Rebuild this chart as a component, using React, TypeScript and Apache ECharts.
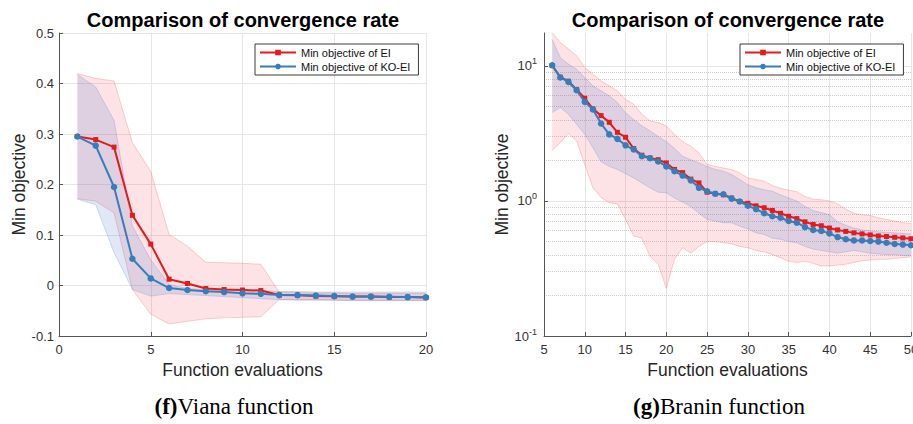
import React, { useEffect, useRef } from 'react';
import * as echarts from 'echarts';

// ---------- (f) Viana function ----------
const vianaX = [1, 2, 3, 4, 5, 6, 7, 8, 9, 10, 11, 12, 13, 14, 15, 16, 17, 18, 19, 20];
const vianaEI = [0.295, 0.289, 0.274, 0.139, 0.082, 0.0125, 0.004, -0.006, -0.008, -0.009, -0.010, -0.019, -0.0195, -0.021, -0.0215, -0.022, -0.022, -0.023, -0.023, -0.024];
const vianaKO = [0.295, 0.277, 0.195, 0.053, 0.014, -0.005, -0.009, -0.0115, -0.013, -0.0155, -0.0165, -0.019, -0.019, -0.020, -0.021, -0.022, -0.022, -0.0225, -0.023, -0.0235];
const vianaEIUpper = [0.420, 0.410, 0.405, 0.283, 0.226, 0.101, 0.078, 0.046, 0.045, 0.044, 0.042, -0.013, -0.014, -0.015, -0.015, -0.016, -0.016, -0.016, -0.016, -0.016];
const vianaEILower = [0.172, 0.167, 0.144, -0.008, -0.057, -0.076, -0.071, -0.066, -0.064, -0.063, -0.062, -0.028, -0.028, -0.028, -0.029, -0.029, -0.029, -0.029, -0.029, -0.029];
const vianaKOUpper = [0.418, 0.393, 0.327, 0.118, 0.051, 0.002, -0.006, -0.008, -0.009, -0.010, -0.010, -0.012, -0.012, -0.013, -0.013, -0.013, -0.013, -0.013, -0.013, -0.013];
const vianaKOLower = [0.171, 0.160, 0.065, -0.008, -0.021, -0.016, -0.018, -0.020, -0.022, -0.024, -0.026, -0.028, -0.029, -0.029, -0.029, -0.030, -0.030, -0.030, -0.030, -0.030];

// ---------- (g) Branin function ----------
const braninX = [6, 7, 8, 9, 10, 11, 12, 13, 14, 15, 16, 17, 18, 19, 20, 21, 22, 23, 24, 25, 26, 27, 28, 29, 30, 31, 32, 33, 34, 35, 36, 37, 38, 39, 40, 41, 42, 43, 44, 45, 46, 47, 48, 49, 50];
const braninEI = [10.05, 8.24, 7.69, 6.67, 5.75, 4.80, 4.28, 3.82, 3.22, 2.96, 2.44, 2.18, 2.08, 2.02, 1.91, 1.71, 1.62, 1.45, 1.36, 1.16, 1.13, 1.11, 1.05, 0.99, 0.96, 0.92, 0.89, 0.85, 0.81, 0.77, 0.74, 0.70, 0.67, 0.655, 0.63, 0.61, 0.595, 0.58, 0.57, 0.56, 0.55, 0.545, 0.538, 0.532, 0.525];
const braninKO = [10.1, 8.2, 7.6, 6.6, 5.41, 4.75, 3.74, 3.11, 2.88, 2.58, 2.40, 2.14, 2.07, 1.96, 1.80, 1.66, 1.54, 1.42, 1.25, 1.18, 1.13, 1.12, 1.04, 0.99, 0.92, 0.87, 0.81, 0.77, 0.75, 0.71, 0.69, 0.64, 0.61, 0.60, 0.575, 0.54, 0.52, 0.51, 0.51, 0.505, 0.50, 0.49, 0.48, 0.475, 0.47];
const braninEIUpper = [17.6, 14.9, 13.3, 11.9, 9.7, 8.66, 7.74, 7.11, 6.53, 5.66, 5.20, 4.38, 3.91, 3.80, 3.59, 3.11, 2.75, 2.54, 2.27, 1.86, 1.80, 1.75, 1.71, 1.61, 1.48, 1.44, 1.40, 1.30, 1.24, 1.20, 1.17, 1.08, 1.03, 1.02, 1.0, 0.95, 0.87, 0.81, 0.79, 0.78, 0.75, 0.73, 0.71, 0.69, 0.68];
const braninEILower = [2.37, 2.70, 3.15, 2.78, 1.85, 1.25, 1.06, 0.97, 0.95, 0.73, 0.55, 0.53, 0.39, 0.34, 0.225, 0.37, 0.45, 0.41, 0.46, 0.50, 0.50, 0.49, 0.48, 0.46, 0.45, 0.43, 0.42, 0.40, 0.38, 0.357, 0.35, 0.357, 0.345, 0.33, 0.33, 0.335, 0.34, 0.35, 0.36, 0.365, 0.37, 0.37, 0.375, 0.38, 0.385];
const braninKOUpper = [15.7, 11.5, 10.3, 9.44, 8.19, 7.11, 6.53, 6.0, 5.35, 4.5, 4.0, 3.6, 3.3, 3.0, 2.75, 2.45, 2.14, 2.02, 1.91, 1.80, 1.71, 1.66, 1.57, 1.44, 1.32, 1.25, 1.21, 1.18, 1.11, 1.05, 1.0, 0.91, 0.85, 0.82, 0.79, 0.70, 0.66, 0.63, 0.61, 0.60, 0.59, 0.585, 0.58, 0.575, 0.57];
const braninKOLower = [4.51, 4.91, 4.38, 3.69, 3.11, 2.48, 1.95, 1.80, 1.71, 1.59, 1.48, 1.36, 1.25, 1.16, 1.15, 1.05, 0.98, 0.91, 0.81, 0.73, 0.71, 0.69, 0.69, 0.65, 0.62, 0.58, 0.565, 0.53, 0.52, 0.50, 0.49, 0.46, 0.44, 0.43, 0.42, 0.41, 0.42, 0.43, 0.42, 0.41, 0.405, 0.40, 0.40, 0.395, 0.395];

// log-axis decorations (tick values)
const logMajorGrid = [1, 10];
const logMinorGrid = [0.2, 0.3, 0.4, 0.5, 0.6, 0.7, 0.8, 0.9, 2, 3, 4, 5, 6, 7, 8, 9];
const logMin = 0.1;
const logMax = 17.5;

const NAME_EI = 'Min objective of EI';
const NAME_KO = 'Min objective of KO-EI';
const TITLE = 'Comparison of convergence rate';
const X_NAME = 'Function evaluations';
const Y_NAME = 'Min objective';

const RED = '#e41a1c';
const BLUE = '#377eb8';
const FONT = '"Liberation Sans", Arial, Helvetica, sans-serif';
const SERIF = '"Liberation Serif", "Times New Roman", serif';

const lg = (v: number) => Math.log10(v);
const ident = (v: number) => v;
const pairs = (xs: number[], ys: number[], f = ident) => xs.map((x, i) => [x, f(ys[i])]);

function bandSeries(
  idx: number,
  xs: number[],
  lo: number[],
  hi: number[],
  fill: string,
  edge: string,
  f: (v: number) => number,
  extra: any = {}
) {
  return {
    type: 'custom',
    xAxisIndex: idx,
    yAxisIndex: idx,
    data: xs.map((x, i) => [x, f(lo[i]), f(hi[i])]),
    encode: { x: 0, y: [1, 2] },
    clip: true,
    silent: true,
    z: 1,
    renderItem: (params: any, api: any) => {
      if (params.dataIndex !== 0) return null;
      const upper = xs.map((x, i) => api.coord([x, f(hi[i])]));
      const lower = xs.map((x, i) => api.coord([x, f(lo[i])]));
      const poly = upper.concat(lower.slice().reverse());
      return {
        type: 'group',
        children: [
          { type: 'polygon', shape: { points: poly }, style: { fill, stroke: 'none' } },
          { type: 'polyline', shape: { points: upper }, style: { stroke: edge, lineWidth: 0.8, fill: 'none' } },
          { type: 'polyline', shape: { points: lower }, style: { stroke: edge, lineWidth: 0.8, fill: 'none' } },
        ],
      };
    },
    ...extra,
  };
}

function mainSeries(idx: number, xs: number[], ei: number[], ko: number[], f: (v: number) => number) {
  return [
    {
      type: 'line',
      name: NAME_EI,
      xAxisIndex: idx,
      yAxisIndex: idx,
      data: pairs(xs, ei, f),
      symbol: 'rect',
      symbolSize: 5,
      itemStyle: { color: RED },
      lineStyle: { color: RED, width: 2 },
      z: 3,
    },
    {
      type: 'line',
      name: NAME_KO,
      xAxisIndex: idx,
      yAxisIndex: idx,
      data: pairs(xs, ko, f),
      symbol: 'circle',
      symbolSize: 6.5,
      itemStyle: { color: BLUE },
      lineStyle: { color: BLUE, width: 2 },
      z: 4,
    },
  ];
}

const AXIS_COLOR = '#555';
const LABEL_COLOR = '#333';
const GRID_COLOR = '#e6e6e6';

const RED_FILL = 'rgba(240,60,70,0.14)';
const RED_EDGE = 'rgba(235,90,95,0.35)';
const BLUE_FILL = 'rgba(60,110,200,0.16)';
const BLUE_EDGE = 'rgba(80,120,200,0.30)';

function legendFor(left: number) {
  return {
    data: [NAME_EI, NAME_KO],
    left,
    top: 44,
    z: 10,
    orient: 'vertical',
    itemWidth: 36,
    itemHeight: 7,
    itemGap: 3,
    padding: [3, 8, 3, 4],
    borderColor: '#3a3a3a',
    borderWidth: 1,
    borderRadius: 0,
    backgroundColor: '#fff',
    selectedMode: false,
    textStyle: { fontSize: 11, color: '#111', fontFamily: FONT },
  };
}

function xAxisFor(idx: number, min: number, max: number) {
  return {
    type: 'value',
    gridIndex: idx,
    min,
    max,
    interval: 5,
    name: X_NAME,
    nameLocation: 'middle',
    nameGap: 25,
    nameTextStyle: { fontSize: 17.5, color: '#262626', fontFamily: FONT },
    axisLine: { show: true, onZero: false, lineStyle: { color: AXIS_COLOR, width: 1 } },
    axisTick: { show: true, inside: true, length: 4, lineStyle: { color: AXIS_COLOR } },
    axisLabel: { fontSize: 13, color: LABEL_COLOR, margin: 7, fontFamily: FONT },
    splitLine: { show: true, lineStyle: { color: GRID_COLOR, width: 1 } },
  };
}

export default function App() {
  const ref = useRef<HTMLDivElement>(null);

  useEffect(() => {
    if (!ref.current) return;
    const chart = echarts.init(ref.current, undefined, { renderer: 'svg' });

    const gridMarks = {
      silent: true,
      z: 0,
      symbol: ['none', 'none'],
      label: { show: false },
      animation: false,
      data: [
        ...logMinorGrid.map((v) => ({ yAxis: lg(v), lineStyle: { type: 'dotted', color: '#cdcdcd', width: 1 } })),
        ...logMajorGrid.map((v) => ({ yAxis: lg(v), lineStyle: { type: 'solid', color: GRID_COLOR, width: 1 } })),
      ],
    };

    const titleStyle = { font: `bold 20px ${FONT}`, fill: '#000', align: 'center', verticalAlign: 'middle' };
    const capRich = {
      b: { fontFamily: SERIF, fontSize: 23, fontWeight: 'bold', fill: '#000' },
      n: { fontFamily: SERIF, fontSize: 23, fill: '#000' },
    };

    const option: any = {
      animation: false,
      backgroundColor: '#fff',
      textStyle: { fontFamily: FONT },
      grid: [
        { left: 59, top: 33, width: 367, height: 303, outerBoundsMode: 'none' },
        { left: 544, top: 33, width: 367, height: 303, outerBoundsMode: 'none' },
      ],
      legend: [legendFor(255), legendFor(740)],
      xAxis: [xAxisFor(0, 0, 20), xAxisFor(1, 5, 50)],
      yAxis: [
        {
          type: 'value',
          gridIndex: 0,
          min: -0.1,
          max: 0.5,
          interval: 0.1,
          name: Y_NAME,
          nameLocation: 'middle',
          nameGap: 30,
          nameTextStyle: { fontSize: 17.5, color: '#262626', fontFamily: FONT },
          axisLine: { show: true, onZero: false, lineStyle: { color: AXIS_COLOR, width: 1 } },
          axisTick: { show: true, inside: true, length: 4, lineStyle: { color: AXIS_COLOR } },
          axisLabel: {
            fontSize: 13,
            color: LABEL_COLOR,
            margin: 5,
            fontFamily: FONT,
            formatter: (v: number) => String(Math.round(v * 10) / 10),
          },
          splitLine: { show: true, lineStyle: { color: GRID_COLOR, width: 1 } },
        },
        {
          type: 'value',
          gridIndex: 1,
          min: lg(logMin),
          max: lg(logMax),
          interval: 1,
          name: Y_NAME,
          nameLocation: 'middle',
          nameGap: 32,
          nameTextStyle: { fontSize: 17.5, color: '#262626', fontFamily: FONT },
          axisLine: { show: true, onZero: false, lineStyle: { color: AXIS_COLOR, width: 1 } },
          axisTick: { show: true, inside: true, length: 4, lineStyle: { color: AXIS_COLOR } },
          axisLabel: {
            margin: 7,
            showMaxLabel: false,
            formatter: (v: number) => {
              const r = Math.round(v);
              if (Math.abs(v - r) > 1e-6) return '';
              return `{b|10}{s|${r}}`;
            },
            rich: {
              b: { fontSize: 13, color: LABEL_COLOR, fontFamily: FONT, lineHeight: 18 },
              s: { fontSize: 9, color: LABEL_COLOR, fontFamily: FONT, verticalAlign: 'top', lineHeight: 10 },
            },
          },
          splitLine: { show: false },
        },
      ],
      graphic: [
        { type: 'text', x: 243, y: 20, style: { text: TITLE, ...titleStyle } },
        { type: 'text', x: 728, y: 20, style: { text: TITLE, ...titleStyle } },
        {
          type: 'text',
          x: 234,
          y: 406,
          style: { text: '{b|(f)}{n|Viana function}', align: 'center', verticalAlign: 'middle', rich: capRich },
        },
        {
          type: 'text',
          x: 719,
          y: 406,
          style: { text: '{b|(g)}{n|Branin function}', align: 'center', verticalAlign: 'middle', rich: capRich },
        },
      ],
      series: [
        bandSeries(0, vianaX, vianaEILower, vianaEIUpper, RED_FILL, RED_EDGE, ident),
        bandSeries(0, vianaX, vianaKOLower, vianaKOUpper, BLUE_FILL, BLUE_EDGE, ident),
        ...mainSeries(0, vianaX, vianaEI, vianaKO, ident),
        bandSeries(1, braninX, braninEILower, braninEIUpper, RED_FILL, RED_EDGE, lg, { markLine: gridMarks }),
        bandSeries(1, braninX, braninKOLower, braninKOUpper, BLUE_FILL, BLUE_EDGE, lg),
        ...mainSeries(1, braninX, braninEI, braninKO, lg),
      ],
    };

    chart.setOption(option);
    return () => chart.dispose();
  }, []);

  return (
    <div
      ref={ref}
      style={{ position: 'fixed', left: 0, top: 0, width: 913, height: 424, background: '#fff' }}
    />
  );
}
